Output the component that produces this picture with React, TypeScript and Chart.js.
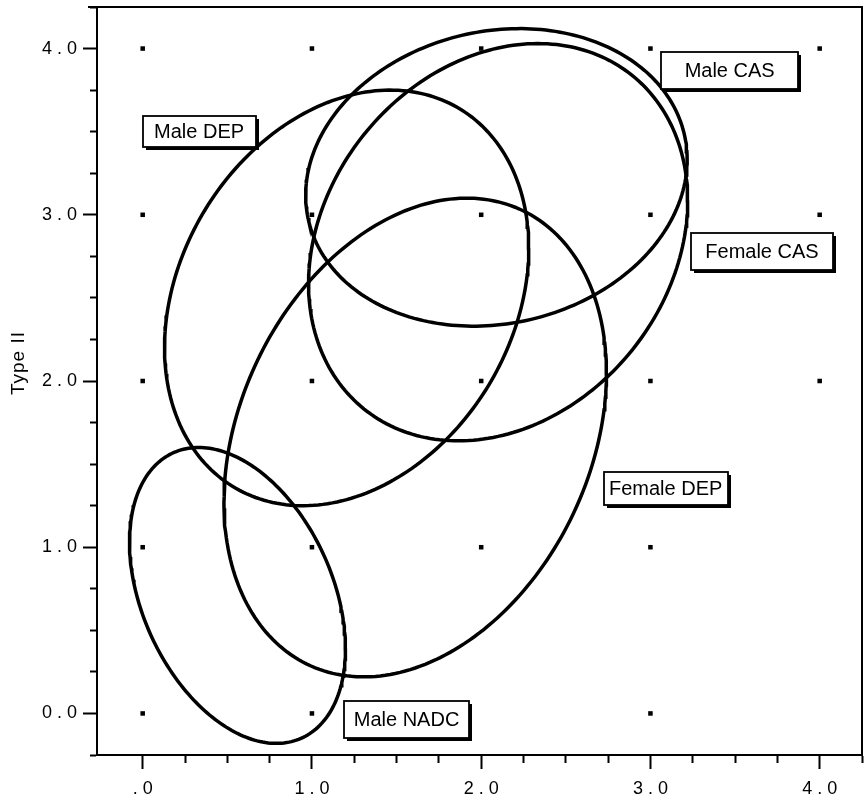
import React, { useEffect, useRef } from 'react';
import { Chart, registerables } from 'chart.js';

Chart.register(...registerables);

// ---- data ----
const groups = ['Male NADC', 'Male DEP', 'Female DEP', 'Male CAS', 'Female CAS'];
// bivariate ellipse parameters per group (Type I mean, Type II mean, spreads, correlation)
const meanX = [0.56, 1.205, 1.61, 2.09, 2.1];
const meanY = [0.71, 2.5, 1.66, 3.225, 2.835];
const sdX = [0.638, 1.076, 1.13, 1.127, 1.12];
const sdY = [0.89, 1.25, 1.44, 0.895, 1.195];
const corr = [-0.36, 0.24, 0.27, 0.12, 0.21];
// label anchor (box centre) in data units
const labelX = [1.559, 0.333, 3.09, 3.468, 3.659];
const labelY = [-0.037, 3.5, 1.353, 3.868, 2.779];

// grid reference dots visible in the figure
const dotX = [0, 1, 2, 3, 4, 0, 1, 2, 3, 4, 0, 1, 2, 3, 4, 0, 1, 2, 3, 0, 1, 3];
const dotY = [4, 4, 4, 4, 4, 3, 3, 3, 3, 3, 2, 2, 2, 2, 2, 1, 1, 1, 1, 0, 0, 0];

const xTickValues = [0, 1, 2, 3, 4];
const xTickLabels = ['.0', '1.0', '2.0', '3.0', '4.0'];
const yTickValues = [0, 1, 2, 3, 4];
const yTickLabels = ['0.0', '1.0', '2.0', '3.0', '4.0'];
const yAxisTitle = 'Type II';

// ---- styling ----
const FONT = '"Liberation Sans", Arial, Helvetica, sans-serif';
const boxW = [125, 113, 124, 137, 142];
const boxH = [37, 31, 33, 37, 37];

function ellipsePoints(i: number) {
  const pts: { x: number; y: number }[] = [];
  const n = 240;
  const r = corr[i];
  const s = Math.sqrt(1 - r * r);
  for (let k = 0; k <= n; k++) {
    const t = (k / n) * Math.PI * 2;
    pts.push({
      x: meanX[i] + sdX[i] * Math.cos(t),
      y: meanY[i] + sdY[i] * (r * Math.cos(t) + s * Math.sin(t)),
    });
  }
  return pts;
}

const isMinor = (v: number) => Math.abs(v - Math.round(v)) > 1e-6;
const spaced = (s: string) => s.split('').join(' ');

const decorPlugin = {
  id: 'decor',
  afterDraw(chart: any) {
    const { ctx, chartArea: a, scales } = chart;
    ctx.save();
    // top and right frame
    ctx.strokeStyle = '#000';
    ctx.lineWidth = 2;
    ctx.beginPath();
    ctx.moveTo(a.left - 9, a.top);
    ctx.lineTo(a.right, a.top);
    ctx.lineTo(a.right, a.bottom);
    ctx.stroke();

    // boxed labels with drop shadow
    ctx.font = `20px ${FONT}`;
    ctx.textAlign = 'center';
    ctx.textBaseline = 'middle';
    groups.forEach((g, i) => {
      const cx = scales.x.getPixelForValue(labelX[i]);
      const cy = scales.y.getPixelForValue(labelY[i]);
      const w = boxW[i];
      const h = boxH[i];
      const l = Math.round(cx - w / 2);
      const t = Math.round(cy - h / 2);
      ctx.fillStyle = '#000';
      ctx.fillRect(l + 3, t + 3, w, h);
      ctx.fillStyle = '#fff';
      ctx.fillRect(l, t, w, h);
      ctx.lineWidth = 1.8;
      ctx.strokeStyle = '#000';
      ctx.strokeRect(l, t, w, h);
      ctx.fillStyle = '#000';
      ctx.fillText(g, cx, cy + 1);
    });

    // y axis title
    ctx.translate(19, (a.top + a.bottom) / 2 - 18);
    ctx.rotate(-Math.PI / 2);
    ctx.font = `19px ${FONT}`;
    try {
      (ctx as any).letterSpacing = '1px';
    } catch (e) {}
    ctx.fillText(yAxisTitle, 0, 0);
    ctx.restore();
  },
};

export default function App() {
  const ref = useRef<HTMLCanvasElement | null>(null);

  useEffect(() => {
    if (!ref.current) return;
    const datasets: any[] = [
      {
        label: 'grid',
        data: dotX.map((x, i) => ({ x, y: dotY[i] })),
        showLine: false,
        pointStyle: 'rect',
        pointRadius: 3.2,
        pointBorderWidth: 0,
        pointBackgroundColor: '#000',
      },
      ...groups.map((g, i) => ({
        label: g,
        data: ellipsePoints(i),
        showLine: true,
        borderColor: '#000',
        borderWidth: 3.5,
        pointRadius: 0,
        fill: false,
        tension: 0,
      })),
    ];

    const quarterFilter = (scale: any) => {
      scale.ticks = scale.ticks.filter(
        (t: any) => Math.abs(t.value * 4 - Math.round(t.value * 4)) < 1e-6
      );
    };

    const chart = new Chart(ref.current, {
      type: 'scatter',
      data: { datasets },
      plugins: [decorPlugin],
      options: {
        responsive: false,
        animation: false,
        layout: { padding: { top: 7, right: 2, left: 0, bottom: 0 } },
        plugins: { legend: { display: false }, tooltip: { enabled: false } },
        scales: {
          x: {
            type: 'linear',
            min: -0.27,
            max: 4.25,
            afterBuildTicks: quarterFilter,
            afterFit: (s: any) => {
              s.height = 46;
              s.paddingLeft = 0;
              s.paddingRight = 0;
            },
            border: { display: true, color: '#000', width: 2 },
            grid: {
              drawOnChartArea: false,
              drawTicks: true,
              tickLength: 14,
              tickWidth: 2,
              tickColor: '#000',
              tickBorderDash: (c: any) => (isMinor(c.tick.value) ? [7, 7] : []),
              tickBorderDashOffset: 0,
            },
            ticks: {
              stepSize: 0.25,
              autoSkip: false,
              maxRotation: 0,
              padding: 9,
              color: '#000',
              font: { family: FONT, size: 18 },
              callback: (v: any) => {
                const idx = xTickValues.findIndex((t) => Math.abs(t - v) < 1e-6);
                return idx >= 0 ? spaced(xTickLabels[idx]) : '';
              },
            },
          },
          y: {
            type: 'linear',
            min: -0.25,
            max: 4.25,
            afterBuildTicks: quarterFilter,
            afterFit: (s: any) => {
              s.width = 97;
              s.paddingTop = 0;
              s.paddingBottom = 0;
            },
            border: { display: true, color: '#000', width: 2 },
            grid: {
              drawOnChartArea: false,
              drawTicks: true,
              tickLength: 14,
              tickWidth: 2,
              tickColor: '#000',
              tickBorderDash: (c: any) => (isMinor(c.tick.value) ? [7, 7] : []),
              tickBorderDashOffset: (c: any) => (isMinor(c.tick.value) ? 7 : 0),
            },
            ticks: {
              stepSize: 0.25,
              autoSkip: false,
              padding: 6,
              color: '#000',
              font: { family: FONT, size: 18 },
              callback: (v: any) => {
                const idx = yTickValues.findIndex((t) => Math.abs(t - v) < 1e-6);
                return idx >= 0 ? spaced(yTickLabels[idx]) : '';
              },
            },
          },
        },
      } as any,
    });
    return () => chart.destroy();
  }, []);

  return (
    <div style={{ position: 'fixed', left: 0, top: 0, width: 866, height: 801, background: '#fff' }}>
      <canvas ref={ref} width={866} height={801} style={{ display: 'block' }} />
    </div>
  );
}
